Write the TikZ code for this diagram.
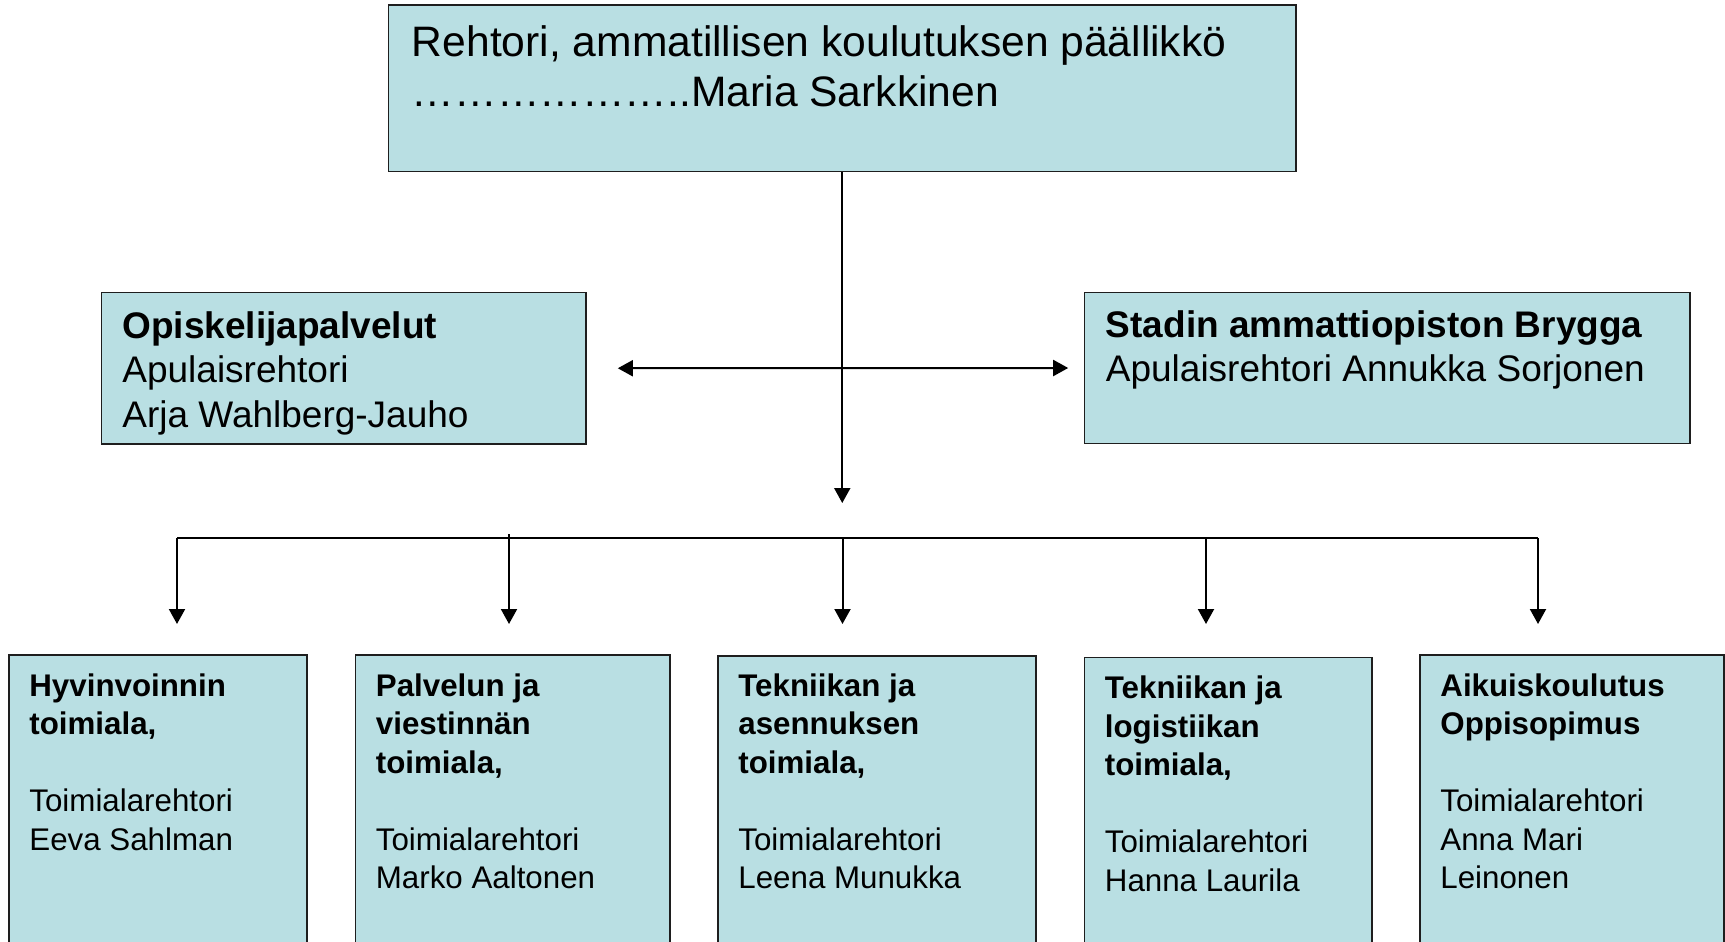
\documentclass[tikz,border=0pt]{standalone}
\usepackage{fontspec}
\setmainfont{Liberation Sans}
\usetikzlibrary{arrows.meta,calc,fit}
\definecolor{boxfill}{RGB}{185,223,227}
\definecolor{boxline}{RGB}{30,30,30}
\newcommand{\TopFnt}{\fontsize{21.3pt}{25pt}\selectfont}
\newcommand{\MidFnt}{\fontsize{18.5pt}{22.25pt}\selectfont}
\newcommand{\BotFnt}{\fontsize{15.65pt}{19.25pt}\selectfont}
\begin{document}
\begin{tikzpicture}[x=0.5pt,y=-0.5pt,
  box/.style={draw=boxline, fill=boxfill, line width=0.8pt, inner sep=0pt},
  txt/.style={anchor=base west, inner sep=0pt, text=black},
  conn/.style={draw=black, line width=1pt},
  arr/.style={conn, -{Triangle[width=8pt,length=7.5pt]}},
  darr/.style={conn, {Triangle[width=8pt,length=7.5pt]}-{Triangle[width=8pt,length=7.5pt]}}
]
\useasboundingbox (0,0) rectangle (1725,942);

% boxes
\node[box, fit={(388.5,5) (1296,171.5)}] (top) {};
\node[box, fit={(101.5,292.5) (586,444)}] (lm) {};
\node[box, fit={(1084.5,292.5) (1690,443.5)}] (rm) {};
\node[box, fit={(9,655) (307,960)}] (b1) {};
\node[box, fit={(355.5,655) (670,960)}] (b2) {};
\node[box, fit={(718,656) (1036,960)}] (b3) {};
\node[box, fit={(1084.5,657.5) (1372,960)}] (b4) {};
\node[box, fit={(1420,655) (1724,960)}] (b5) {};

% texts
\node[txt] (ttop) at (411.5,56) {\parbox[t]{440pt}{\TopFnt Rehtori, ammatillisen koulutuksen päällikkö\\………………..Maria Sarkkinen}};
\node[txt] (tlm) at (122,338) {\parbox[t]{230pt}{\MidFnt\textbf{Opiskelijapalvelut}\\Apulaisrehtori\\Arja Wahlberg-Jauho}};
\node[txt] (trm) at (1105.5,337) {\parbox[t]{295pt}{\MidFnt\textbf{Stadin ammattiopiston Brygga}\\Apulaisrehtori Annukka Sorjonen}};
\node[txt] (tb1) at (29,696) {\parbox[t]{140pt}{\BotFnt{\bfseries Hyvinvoinnin\\toimiala,}\\\mbox{}\\Toimialarehtori\\Eeva Sahlman}};
\node[txt] (tb2) at (375.5,696) {\parbox[t]{150pt}{\BotFnt{\bfseries Palvelun ja\\viestinnän\\toimiala,}\\\mbox{}\\Toimialarehtori\\Marko Aaltonen}};
\node[txt] (tb3) at (738,696) {\parbox[t]{150pt}{\BotFnt{\bfseries Tekniikan ja\\asennuksen\\toimiala,}\\\mbox{}\\Toimialarehtori\\Leena Munukka}};
\node[txt] (tb4) at (1104.5,698.5) {\parbox[t]{140pt}{\BotFnt{\bfseries Tekniikan ja\\logistiikan\\toimiala,}\\\mbox{}\\Toimialarehtori\\Hanna Laurila}};
\node[txt] (tb5) at (1440,696) {\parbox[t]{145pt}{\BotFnt{\bfseries Aikuiskoulutus\\Oppisopimus}\\\mbox{}\\Toimialarehtori\\Anna Mari\\Leinonen}};

% coordinates
\coordinate (down) at (842.5,503);
\coordinate (busL) at (177,538);
\coordinate (busR) at (1538,538);
\coordinate (d1) at (177,624);
\coordinate (d2) at (509,624);
\coordinate (d3) at (842.5,624);
\coordinate (d4) at (1206,624);
\coordinate (d5) at (1538,624);

% connectors
\draw[arr] (top.south) -- (top.south |- down);
\draw[darr] ($(lm.east)+(31,0)$) -- ($(rm.west)+(-15.5,0)$);
\draw[conn] (busL) -- (busR);
\draw[arr] (d1 |- busL) -- (d1);
\draw[arr] ($(d2 |- busL)+(0,-4)$) -- (d2);
\draw[arr] (d3 |- busL) -- (d3);
\draw[arr] (d4 |- busL) -- (d4);
\draw[arr] (d5 |- busL) -- (d5);
\end{tikzpicture}
\end{document}
